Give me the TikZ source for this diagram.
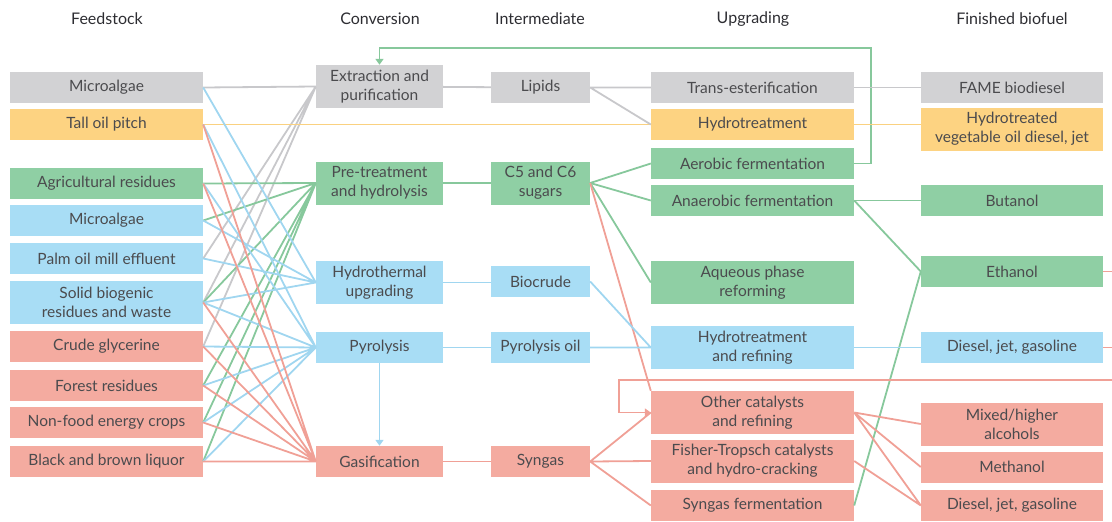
\documentclass[tikz,border=0pt]{standalone}
\usepackage{fontspec}
\setmainfont{Lato}
\usetikzlibrary{arrows.meta}
\definecolor{boxgray}{RGB}{210,210,212}
\definecolor{boxyellow}{RGB}{253,211,130}
\definecolor{boxgreen}{RGB}{143,207,164}
\definecolor{boxblue}{RGB}{168,221,245}
\definecolor{boxred}{RGB}{244,171,160}
\definecolor{lngray}{RGB}{200,200,203}
\definecolor{lnyellow}{RGB}{250,209,128}
\definecolor{lngreen}{RGB}{135,200,156}
\definecolor{lnblue}{RGB}{160,214,240}
\definecolor{lnred}{RGB}{240,160,150}
\definecolor{txtgray}{RGB}{75,75,78}
\definecolor{headgray}{RGB}{45,45,50}
\tikzset{
  box/.style={inner sep=0pt, align=center, text=txtgray, font=\fontsize{15.5}{19}\selectfont, minimum height=31pt},
  feedbox/.style={box, minimum width=193pt},
  convbox/.style={box, minimum width=127pt},
  interbox/.style={box, minimum width=99pt},
  upgbox/.style={box, minimum width=203pt},
  finbox/.style={box, minimum width=182pt},
  twoline/.style={minimum height=43pt},
  colhead/.style={font=\fontsize{16}{19}\selectfont, text=headgray},
  link/.style={line width=1.8pt},
  grayline/.style={link, draw=lngray},
  yellowline/.style={link, draw=lnyellow},
  greenline/.style={link, draw=lngreen},
  blueline/.style={link, draw=lnblue},
  redline/.style={link, draw=lnred},
  flowarrow/.style={-{Triangle[length=6pt, width=8pt]}}
}
\begin{document}
\begin{tikzpicture}[x=1pt, y=-1pt]
  \useasboundingbox (0,0) rectangle (1112,522);
  % column heads
  \node[colhead] (hfeed) at (107,19) {Feedstock};
  \node[colhead] (hconv) at (380,19) {Conversion};
  \node[colhead] (hinter) at (540,19) {Intermediate};
  \node[colhead] (hupg) at (753,19) {Upgrading};
  \node[colhead] (hfin) at (1012,19) {Finished biofuel};
  % feedstock
  \node[feedbox, fill=boxgray] (algae1) at (106.5,87.5) {Microalgae};
  \node[feedbox, fill=boxyellow] (tallpitch) at (106.5,124.5) {Tall oil pitch};
  \node[feedbox, fill=boxgreen] (agri) at (106.5,183.5) {Agricultural residues};
  \node[feedbox, fill=boxblue] (algae2) at (106.5,220.5) {Microalgae};
  \node[feedbox, fill=boxblue] (palm) at (106.5,258.5) {Palm oil mill effluent};
  \node[feedbox, twoline, fill=boxblue] (solid) at (106.5,302.5) {Solid biogenic\\residues and waste};
  \node[feedbox, fill=boxred] (glycerine) at (106.5,346.5) {Crude glycerine};
  \node[feedbox, fill=boxred] (forest) at (106.5,385.5) {Forest residues};
  \node[feedbox, fill=boxred] (crops) at (106.5,422.5) {Non-food energy crops};
  \node[feedbox, fill=boxred] (liquor) at (106.5,461.5) {Black and brown liquor};
  % conversion
  \node[convbox, twoline, fill=boxgray] (extract) at (379.5,86.5) {Extraction and\\purification};
  \node[convbox, twoline, fill=boxgreen] (pretreat) at (379.5,183) {Pre-treatment\\and hydrolysis};
  \node[convbox, twoline, fill=boxblue] (htu) at (379.5,282.5) {Hydrothermal\\upgrading};
  \node[convbox, fill=boxblue] (pyro) at (379.5,347.5) {Pyrolysis};
  \node[convbox, fill=boxred] (gasif) at (379.5,461.5) {Gasification};
  % intermediate
  \node[interbox, fill=boxgray] (lipids) at (540.5,87.5) {Lipids};
  \node[interbox, twoline, fill=boxgreen] (sugars) at (540.5,183) {C5 and C6\\sugars};
  \node[interbox, fill=boxblue] (biocrude) at (540.5,281.5) {Biocrude};
  \node[interbox, fill=boxblue] (pyroil) at (540.5,347.5) {Pyrolysis oil};
  \node[interbox, fill=boxred] (syngas) at (540.5,461.5) {Syngas};
  % upgrading
  \node[upgbox, fill=boxgray] (transest) at (752.5,87.5) {Trans-esterification};
  \node[upgbox, fill=boxyellow] (hydrot) at (752.5,124.5) {Hydrotreatment};
  \node[upgbox, fill=boxgreen] (aerobic) at (752.5,163.5) {Aerobic fermentation};
  \node[upgbox, fill=boxgreen] (anaerobic) at (752.5,200.5) {Anaerobic fermentation};
  \node[upgbox, twoline, fill=boxgreen] (aqueous) at (752.5,282.5) {Aqueous phase\\reforming};
  \node[upgbox, twoline, fill=boxblue] (hydroref) at (752.5,347.5) {Hydrotreatment\\and refining};
  \node[upgbox, twoline, fill=boxred] (othercat) at (752.5,412.5) {Other catalysts\\and refining};
  \node[upgbox, twoline, fill=boxred] (fischer) at (752.5,461) {Fisher-Tropsch catalysts\\and hydro-cracking};
  \node[upgbox, fill=boxred] (synferm) at (752.5,505.5) {Syngas fermentation};
  % finished biofuel
  \node[finbox, fill=boxgray] (fame) at (1012,87.5) {FAME biodiesel};
  \node[finbox, twoline, fill=boxyellow] (hvo) at (1012,129) {Hydrotreated\\vegetable oil diesel, jet};
  \node[finbox, fill=boxgreen] (butanol) at (1012,200.5) {Butanol};
  \node[finbox, fill=boxgreen] (ethanol) at (1012,271.5) {Ethanol};
  \node[finbox, fill=boxblue] (diesel1) at (1012,347.5) {Diesel, jet, gasoline};
  \node[finbox, twoline, fill=boxred] (alcohols) at (1012,424) {Mixed/higher\\alcohols};
  \node[finbox, fill=boxred] (methanol) at (1012,467) {Methanol};
  \node[finbox, fill=boxred] (diesel2) at (1012,505.5) {Diesel, jet, gasoline};
  \coordinate (ethout) at (1112,271.5);
  \coordinate (dslout) at (1112,347.5);
  \coordinate (recycle) at (1112,380);

  % feedstock to conversion
  \draw[grayline] (algae1.east) -- (extract.west) (palm.east) -- (extract.west)
    (solid.east) -- (extract.west) (glycerine.east) -- (extract.west);
  \draw[yellowline] (tallpitch.east) -- (hydrot.west);
  \draw[greenline] (agri.east) -- (pretreat.west) (algae2.east) -- (pretreat.west)
    (solid.east) -- (pretreat.west) (forest.east) -- (pretreat.west)
    (crops.east) -- (pretreat.west) (liquor.east) -- (pretreat.west);
  \draw[blueline] (algae1.east) -- (htu.west) (algae2.east) -- (htu.west)
    (palm.east) -- (htu.west) (solid.east) -- (htu.west);
  \draw[blueline] (tallpitch.east) -- (pyro.west) (agri.east) -- (pyro.west)
    (solid.east) -- (pyro.west) (glycerine.east) -- (pyro.west)
    (forest.east) -- (pyro.west) (crops.east) -- (pyro.west) (liquor.east) -- (pyro.west);
  \draw[redline] (tallpitch.east) -- (gasif.west) (agri.east) -- (gasif.west)
    (solid.east) -- (gasif.west) (glycerine.east) -- (gasif.west)
    (forest.east) -- (gasif.west) (crops.east) -- (gasif.west) (liquor.east) -- (gasif.west);

  % conversion to intermediate
  \draw[grayline] (extract) -- (lipids);
  \draw[greenline] (pretreat) -- (sugars);
  \draw[blueline] (htu.east) -- (biocrude.west |- htu.east);
  \draw[blueline] (pyro) -- (pyroil);
  \draw[blueline, flowarrow] (pyro) -- (gasif);
  \draw[redline] (gasif) -- (syngas);
  \draw[greenline, flowarrow] (aerobic.east) -- ++(17,0) |- ([yshift=17pt]extract.north) -- (extract.north);

  % intermediate to upgrading
  \draw[grayline] (lipids.east) -- (transest.west) (lipids.east) -- (hydrot.west);
  \draw[greenline] (sugars.east) -- (aerobic.west) (sugars.east) -- (anaerobic.west)
    (sugars.east) -- (aqueous.west);
  \draw[redline] (sugars.east) -- (othercat.north west);
  \draw[blueline] (biocrude.east) -- (hydroref.west) (pyroil.east) -- (hydroref.west);
  \draw[redline] (syngas.east) -- (othercat.west) (syngas.east) -- (fischer.west)
    (syngas.east) -- (synferm.west);

  % upgrading to finished biofuel
  \draw[grayline] (transest) -- (fame);
  \draw[yellowline] (hydrot.east) -- (hvo.west |- hydrot.east);
  \draw[greenline] (anaerobic) -- (butanol);
  \draw[greenline] (anaerobic.east) -- (ethanol.west) (synferm.east) -- (ethanol.west);
  \draw[blueline] (hydroref) -- (diesel1);
  \draw[redline] (othercat.east) -- (alcohols.west) (othercat.east) -- (methanol.west)
    (othercat.east) -- (diesel2.west) (fischer.east) -- (diesel2.west);
  \draw[redline] (ethanol.east) -- (ethout) (diesel1.east) -- (dslout);
  \draw[redline, flowarrow] (recycle) -| ([xshift=-32pt]othercat.west) -- (othercat.west);
\end{tikzpicture}
\end{document}
